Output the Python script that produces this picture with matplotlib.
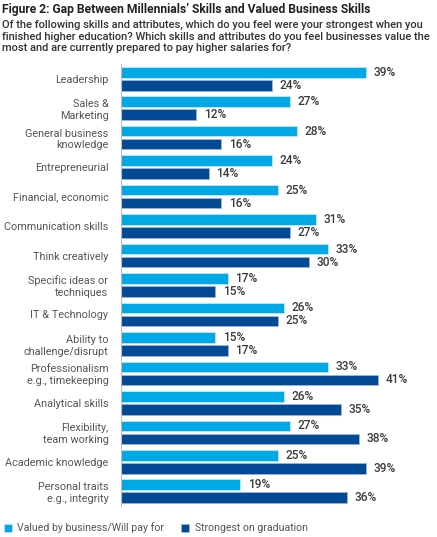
import numpy as np
from matplotlib import pyplot as plt

categories = ["Leadership", "Sales &\nMarketing", "General business\nknowledge",
              "Entrepreneurial", "Financial, economic", "Communication skills",
              "Think creatively", "Specific ideas or\ntechniques", "IT & Technology",
              "Ability to\nchallenge/disrupt", "Professionalism\ne.g., timekeeping",
              "Analytical skills", "Flexibility,\nteam working", "Academic knowledge",
              "Personal traits\ne.g., integrity"]
valued = [39, 27, 28, 24, 25, 31, 33, 17, 26, 15, 33, 26, 27, 25, 19]
strongest = [24, 12, 16, 14, 16, 27, 30, 15, 25, 17, 41, 35, 38, 39, 36]
series_names = ["Valued by business/Will pay for", "Strongest on graduation"]

light = "#00a9e6"
dark = "#024a96"
text_col = "#3a3a3a"

plt.rcParams["font.family"] = ["Roboto", "DejaVu Sans"]

fig = plt.figure(figsize=(4.37, 5.37), dpi=100)
ax = fig.add_axes([121 / 437, 1 - 506 / 537, 1 - 121 / 437 - 0.005, (506 - 64) / 537])

y = np.arange(len(categories))
off = 0.22
h = 0.36
b1 = ax.barh(y - off, valued, height=h, color=light, edgecolor="#bfe6f7", linewidth=0.6,
             label=series_names[0])
b2 = ax.barh(y + off, strongest, height=h, color=dark, edgecolor="#9db5d8", linewidth=0.6,
             label=series_names[1])
for bars, vals in ((b1, valued), (b2, strongest)):
    for bar, v in zip(bars, vals):
        ax.text(bar.get_width() + 1.2, bar.get_y() + bar.get_height() / 2, f"{v}%",
                va="center", ha="left", fontsize=8.6, color=text_col, fontweight="medium")

ax.set_xlim(0, 50)
ax.set_ylim(len(categories) - 0.5, -0.5)
ax.set_yticks(y)
ax.set_yticklabels(categories, fontsize=7.8, color="#555555", linespacing=1.2)
ax.tick_params(axis="y", length=0, pad=9)
ax.set_xticks([])
for s in ["top", "right", "bottom"]:
    ax.spines[s].set_visible(False)
ax.spines["left"].set_color("#bbbbbb")
ax.spines["left"].set_linewidth(0.8)

fig.text(0.005, 0.995, "Figure 2: Gap Between Millennials’ Skills and Valued Business Skills",
         ha="left", va="top", fontsize=8.7, fontweight="bold", color="#222222")
fig.text(0.005, 0.963, "Of the following skills and attributes, which do you feel were your strongest when you\n"
         "finished higher education? Which skills and attributes do you feel businesses value the\n"
         "most and are currently prepared to pay higher salaries for?",
         ha="left", va="top", fontsize=8, fontweight="medium", color="#333333", linespacing=1.2)

fig.legend(handles=[b1, b2], loc="lower left", bbox_to_anchor=(-0.012, -0.011), ncol=2,
           frameon=False, fontsize=7.6, handlelength=0.75, handleheight=0.75, handletextpad=0.5,
           columnspacing=1.6, labelcolor="#555555")

fig.savefig("out.png", dpi=100)
